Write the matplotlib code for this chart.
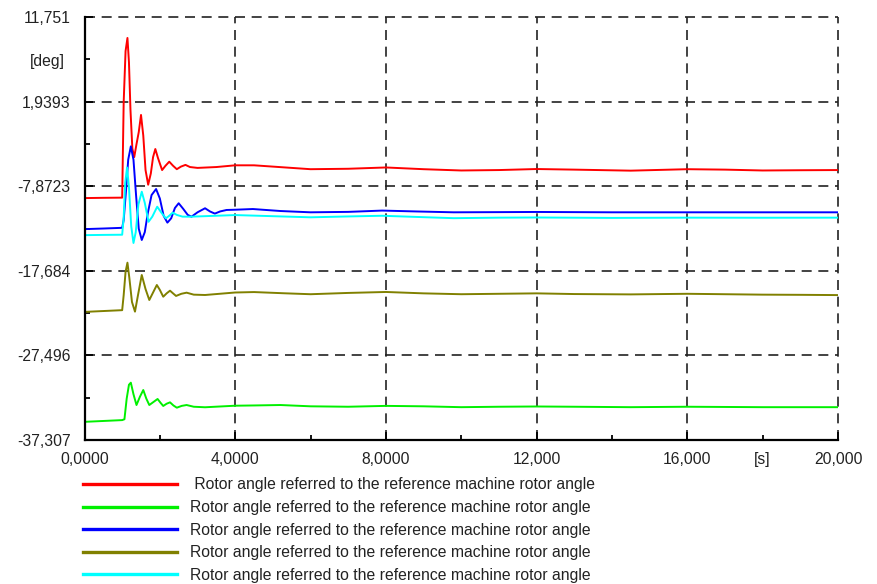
import matplotlib
matplotlib.use("Agg")
import matplotlib.pyplot as plt
import numpy as np

# Rotor angles [deg] over time [s]
t_red = [0, 0.5, 1.00, 1.04, 1.09, 1.14, 1.18, 1.22, 1.27, 1.32, 1.38, 1.44, 1.50, 1.56, 1.62, 1.69,
         1.76, 1.82, 1.88, 1.95, 2.06, 2.15, 2.25, 2.35, 2.45, 2.56, 2.68, 2.80, 3.0, 3.5, 4.0, 4.5,
         5.0, 6.0, 7.0, 8.0, 9.0, 10.0, 11.0, 12.0, 13.0, 14.5, 16.0, 17.0, 18.0, 19.0, 20.0]
red = [-9.25, -9.22, -9.20, 1.9, 7.8, 9.32, 6.5, 1.0, -3.5, -4.5, -3.0, -1.6, 0.39, -2.0, -6.0, -7.7,
       -6.4, -4.5, -3.56, -4.6, -6.0, -5.5, -5.03, -5.5, -5.9, -5.6, -5.4, -5.65, -5.75, -5.65, -5.45, -5.45,
       -5.6, -5.9, -5.85, -5.7, -5.9, -6.05, -6.0, -5.88, -5.95, -6.07, -5.9, -5.95, -6.05, -6.02, -6.0]

t_green = [0, 0.5, 1.0, 1.06, 1.12, 1.18, 1.23, 1.30, 1.38, 1.47, 1.56, 1.64, 1.72, 1.83, 1.94, 2.02,
           2.09, 2.18, 2.27, 2.36, 2.45, 2.58, 2.71, 2.9, 3.2, 4.0, 4.5, 5.2, 6.0, 7.0, 8.0, 9.0,
           10.0, 11.0, 12.0, 13.0, 14.5, 16.0, 18.0, 20.0]
green = [-35.2, -35.1, -35.0, -34.9, -32.5, -30.9, -30.66, -32.0, -33.25, -32.3, -31.51, -32.5, -33.25, -32.9, -32.55, -33.0,
         -33.36, -33.1, -32.94, -33.3, -33.56, -33.35, -33.25, -33.45, -33.51, -33.33, -33.3, -33.25, -33.4, -33.45, -33.35, -33.4,
         -33.5, -33.45, -33.42, -33.45, -33.5, -33.45, -33.5, -33.5]

t_blue = [0, 0.5, 1.0, 1.04, 1.10, 1.16, 1.23, 1.30, 1.37, 1.44, 1.52, 1.60, 1.68, 1.78, 1.90, 2.0,
          2.10, 2.20, 2.30, 2.40, 2.50, 2.62, 2.74, 2.84, 3.0, 3.20, 3.33, 3.46, 3.6, 3.77, 4.0, 4.47,
          5.2, 6.0, 7.0, 7.9, 8.8, 9.8, 11.0, 12.0, 14.0, 16.0, 18.0, 20.0]
blue = [-12.85, -12.78, -12.7, -11.8, -8.5, -4.8, -3.25, -4.8, -9.0, -12.8, -14.11, -13.2, -11.0, -8.9, -8.2, -9.3,
        -11.3, -12.1, -11.6, -10.4, -9.85, -10.5, -11.2, -11.41, -10.9, -10.43, -10.8, -11.05, -10.8, -10.63, -10.6, -10.52,
        -10.75, -10.9, -10.85, -10.7, -10.8, -10.9, -10.88, -10.86, -10.9, -10.9, -10.9, -10.9]

t_olive = [0, 0.5, 1.0, 1.04, 1.09, 1.14, 1.19, 1.26, 1.34, 1.42, 1.52, 1.62, 1.72, 1.82, 1.92, 2.0,
           2.09, 2.18, 2.27, 2.35, 2.43, 2.57, 2.71, 2.9, 3.2, 4.0, 4.5, 5.3, 6.0, 7.0, 8.0, 9.0,
           10.0, 11.0, 12.0, 13.0, 14.5, 16.0, 17.0, 18.0, 19.0, 20.0]
olive = [-22.45, -22.35, -22.25, -20.5, -17.8, -16.74, -18.5, -21.3, -22.42, -20.5, -18.17, -19.8, -21.07, -20.2, -19.33, -19.9,
         -20.69, -20.3, -19.99, -20.3, -20.6, -20.35, -20.22, -20.45, -20.49, -20.2, -20.15, -20.29, -20.4, -20.25, -20.14, -20.3,
         -20.4, -20.35, -20.3, -20.38, -20.42, -20.35, -20.4, -20.45, -20.47, -20.5]

t_cyan = [0, 0.5, 1.0, 1.04, 1.08, 1.13, 1.18, 1.24, 1.30, 1.36, 1.43, 1.52, 1.60, 1.70, 1.80, 1.93,
          2.05, 2.16, 2.25, 2.34, 2.45, 2.6, 2.8, 3.5, 4.0, 5.0, 6.0, 7.0, 7.9, 8.9, 9.8, 11.0,
          12.0, 14.0, 16.0, 18.0, 20.0]
cyan = [-13.55, -13.52, -13.5, -11.5, -7.5, -5.7, -8.0, -12.5, -14.46, -13.2, -10.0, -8.51, -9.8, -12.0, -11.4, -10.25,
        -11.0, -11.6, -11.3, -10.94, -11.2, -11.4, -11.41, -11.3, -11.22, -11.35, -11.48, -11.38, -11.3, -11.45, -11.58, -11.52,
        -11.5, -11.55, -11.52, -11.53, -11.52]

label = "Rotor angle referred to the reference machine rotor angle"

y_ticks = [11.751, 1.9393, -7.8723, -17.684, -27.496, -37.307]
y_labels = ["11,751", "1,9393", "-7,8723", "-17,684", "-27,496", "-37,307"]
x_ticks = [0, 4, 8, 12, 16, 20]
x_labels = ["0,0000", "4,0000", "8,0000", "12,000", "16,000", "20,000"]

plt.rcParams['font.family'] = ['Liberation Sans', 'DejaVu Sans']

W, H = 877, 584
fig = plt.figure(figsize=(W / 100, H / 100), dpi=100)
ax = fig.add_axes([84.5 / W, 1 - 440 / H, (838 - 84.5) / W, (440 - 17) / H])

series = [(t_red, red, '#ff0000', ' ' + label),
          (t_green, green, '#00f000', label),
          (t_blue, blue, '#0000ff', label),
          (t_olive, olive, '#808000', label),
          (t_cyan, cyan, '#00ffff', label)]
for t, v, c, lab in series:
    ax.plot(t, v, color=c, lw=1.4, label=lab)

ax.set_xlim(0, 20)
ax.set_ylim(-37.307, 11.751)
ax.set_xticks(x_ticks)
ax.set_xticklabels(x_labels)
ax.set_yticks(y_ticks)
ax.set_yticklabels(y_labels)
ax.set_xticks([2, 6, 10, 14, 18], minor=True)
ax.set_yticks(list((np.array(y_ticks[:-1]) + np.array(y_ticks[1:])) / 2), minor=True)

txt = '#222222'
fs = 11.3
ax.tick_params(axis='both', which='major', direction='in', length=6, width=1.3,
               labelsize=fs, labelcolor=txt)
ax.tick_params(axis='x', which='major', pad=8.5)
ax.tick_params(axis='y', which='major', pad=10)
ax.tick_params(axis='both', which='minor', direction='in', length=3.5, width=1.3)

for s in ['top', 'right']:
    ax.spines[s].set_visible(False)
for s in ['left', 'bottom']:
    ax.spines[s].set_linewidth(1.6)
    ax.spines[s].set_zorder(5)

ax.grid(True, which='major', color='#222222', lw=1.2, ls=(0, (6, 4)))
for gl in ax.get_xgridlines() + ax.get_ygridlines():
    gl.set_clip_on(False)
ax.set_axisbelow(True)

ax.annotate('[deg]', xy=(0, (y_ticks[0] + y_ticks[1]) / 2), xycoords='data',
            xytext=(-14, -1.5), textcoords='offset points', ha='right', va='center',
            fontsize=fs, color=txt, annotation_clip=False)
ax.annotate('[s]', xy=(18, 0), xycoords=('data', 'axes fraction'),
            xytext=(0, -8.5), textcoords='offset points', ha='center', va='top',
            fontsize=fs, color=txt, annotation_clip=False)

leg = fig.legend(loc='upper left', bbox_to_anchor=(83 / W, 1 - 477.5 / H),
                 frameon=False, fontsize=fs, handlelength=6.0, handletextpad=0.8,
                 labelspacing=0.485, borderaxespad=0, borderpad=0)
for h in leg.get_lines():
    h.set_linewidth(2.4)
for tx in leg.get_texts():
    tx.set_color(txt)

fig.savefig('out.png', dpi=100)
